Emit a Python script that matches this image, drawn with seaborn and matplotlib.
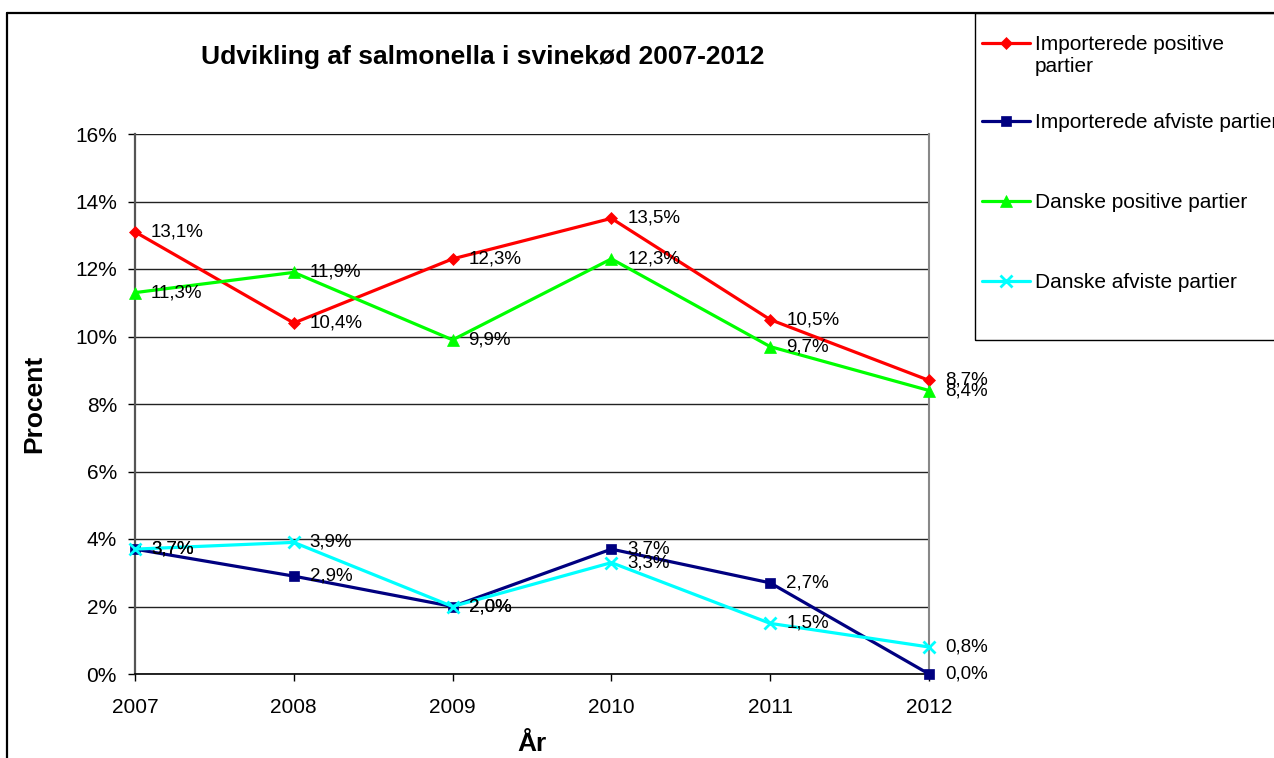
import matplotlib
matplotlib.use("Agg")
import matplotlib.pyplot as plt
import seaborn as sns
import pandas as pd
from matplotlib.patches import Rectangle
from matplotlib.lines import Line2D
from matplotlib.ticker import FuncFormatter
from matplotlib.legend_handler import HandlerLine2D
from matplotlib.transforms import Affine2D

years = [2007, 2008, 2009, 2010, 2011, 2012]
imp_pos = [13.1, 10.4, 12.3, 13.5, 10.5, 8.7]
imp_afv = [3.7, 2.9, 2.0, 3.7, 2.7, 0.0]
dk_pos = [11.3, 11.9, 9.9, 12.3, 9.7, 8.4]
dk_afv = [3.7, 3.9, 2.0, 3.3, 1.5, 0.8]
series_names = ["Importerede positive\npartier", "Importerede afviste partier",
                "Danske positive partier", "Danske afviste partier"]
title = "Udvikling af salmonella i svinekød 2007-2012"
xlabel = "År"
ylabel = "Procent"

sns.set_style("white")
plt.rcParams['font.family'] = ['Liberation Sans', 'DejaVu Sans']
plt.rcParams['text.color'] = 'black'
plt.rcParams['axes.labelcolor'] = 'black'

fig = plt.figure(figsize=(12.74, 7.58), dpi=100)
W, H = 1274, 758
ax = fig.add_axes([135 / W, 1 - 674 / H, (929 - 135) / W, (674 - 134) / H])

styles = [
    (imp_pos, "#FF0000", "D", 6.5, 0.5),
    (imp_afv, "#000080", "s", 7, 0.5),
    (dk_pos, "#00FF00", "^", 8, 0.5),
    (dk_afv, "#00FFFF", "x", 8, 2.0),
]
handles = []
for (vals, col, mk, ms, mew), name in zip(styles, series_names):
    df = pd.DataFrame({"year": years, "val": vals})
    sns.lineplot(data=df, x="year", y="val", ax=ax, color=col, lw=2.3,
                 marker=mk, markersize=ms, markeredgecolor=col,
                 markerfacecolor=col, markeredgewidth=mew, clip_on=False,
                 zorder=3)
    for x, v in zip(years, vals):
        ax.annotate(f"{v:.1f}%".replace(".", ","), (x, v), xytext=(11.5, 0),
                    textcoords="offset points", va="center", ha="left",
                    fontsize=13.5, color="black", zorder=4)
    handles.append(Line2D([], [], color=col, lw=2.3, marker=mk, markersize=ms,
                          markeredgecolor=col, markerfacecolor=col,
                          markeredgewidth=mew))

ax.set_xlim(2007, 2012)
ax.set_ylim(0, 16)
ax.set_xticks(years)
ax.set_yticks(range(0, 17, 2))
ax.yaxis.set_major_formatter(FuncFormatter(lambda v, p: f"{v:.0f}%"))
ax.grid(axis="y", color="#222222", lw=1.0)
ax.grid(axis="x", visible=False)
ax.tick_params(axis="both", labelsize=15, colors="black", length=5,
               width=1, direction="out", bottom=True, left=True, pad=8)
ax.tick_params(axis="x", pad=12)
ax.spines["top"].set_visible(False)
ax.spines["left"].set_color("#555555")
ax.spines["left"].set_linewidth(1.6)
ax.spines["right"].set_color("#888888")
ax.spines["right"].set_linewidth(1.5)
ax.spines["bottom"].set_color("black")
ax.spines["bottom"].set_linewidth(1.2)
ax.set_xlabel(xlabel, fontsize=19, fontweight="bold", labelpad=11)
ax.set_ylabel(ylabel, fontsize=19, fontweight="bold", labelpad=21)

fig.text(483 / W, 1 - 57 / H, title, fontsize=19, fontweight="bold",
         ha="center", va="center", color="black")

# chart frame
fig.add_artist(Line2D([7 / W, 1.0], [1 - 13 / H, 1 - 13 / H], color="black",
                      lw=1.6, transform=fig.transFigure))
fig.add_artist(Line2D([7 / W, 7 / W], [0, 1 - 13 / H], color="black",
                      lw=1.6, transform=fig.transFigure))
# legend box
fig.add_artist(Rectangle((975 / W, 1 - 340 / H), (W + 5 - 975) / W, (340 - 13) / H,
                         transform=fig.transFigure, fill=False, ec="black",
                         lw=1.0))


class ShiftedHandler(HandlerLine2D):
    def __init__(self, dy, **kw):
        super().__init__(**kw)
        self.dy = dy

    def create_artists(self, legend, orig_handle, xdescent, ydescent, width,
                       height, fontsize, trans):
        arts = super().create_artists(legend, orig_handle, xdescent, ydescent,
                                      width, height, fontsize, trans)
        shift = Affine2D().translate(0, self.dy)
        for a in arts:
            a.set_transform(shift + trans)
        return arts


centers = [55.5, 123, 203, 283]
for i, (h, name, cy) in enumerate(zip(handles, series_names, centers)):
    hmap = {h: ShiftedHandler(9.5)} if i == 0 else None
    leg = fig.legend(handles=[h], labels=[name], loc="center left",
                     bbox_to_anchor=(982 / W, 1 - cy / H), frameon=False,
                     fontsize=15, handlelength=2.3, handletextpad=0.25,
                     borderpad=0, borderaxespad=0, handler_map=hmap)
    for t in leg.get_texts():
        t.set_color("black")

fig.savefig("out.png", dpi=100)
